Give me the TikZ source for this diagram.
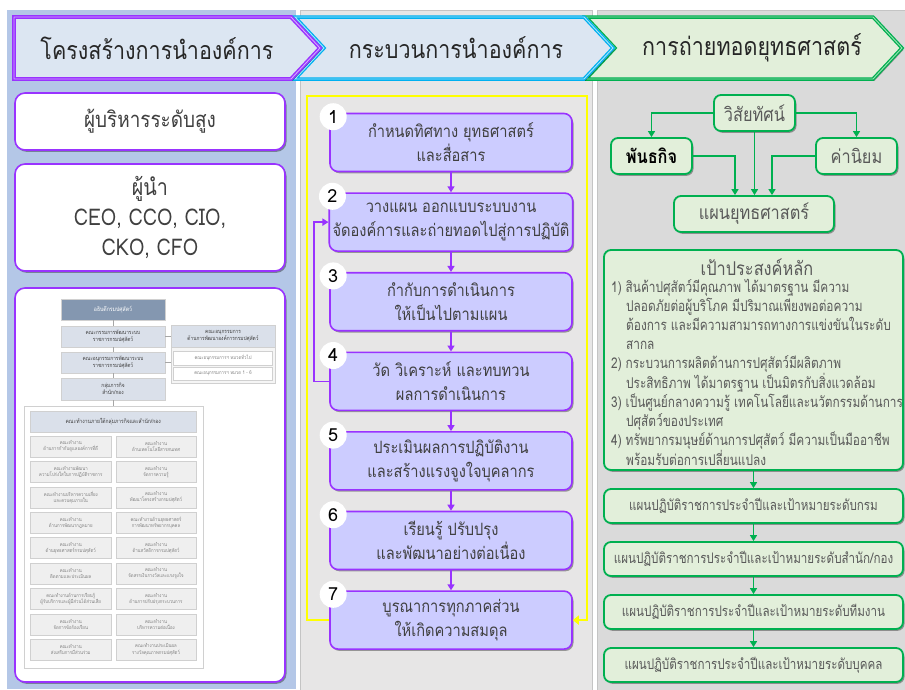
\documentclass[tikz,border=0pt]{standalone}
\usepackage{fontspec}
\setmainfont{Loma}[Script=Thai]
\newfontfamily\thn{Loma}[Script=Thai,FakeStretch=0.86]
\newfontfamily\thnn{Loma}[Script=Thai,FakeStretch=0.8]
\usetikzlibrary{arrows.meta,shadows,calc}
\definecolor{leftbg}{HTML}{B4C7E7}
\definecolor{midbg}{HTML}{E7E6E6}
\definecolor{rightbg}{HTML}{DADADA}
\definecolor{colline}{HTML}{C4C4C4}
\definecolor{hdrblue}{HTML}{DCE6F2}
\definecolor{hdrgreen}{HTML}{E2EFDA}
\definecolor{pp}{HTML}{9933FF}
\definecolor{ppl}{HTML}{D2A8FF}
\definecolor{cy}{HTML}{00B0F0}
\definecolor{cyl}{HTML}{A6E4FA}
\definecolor{gr}{HTML}{00B050}
\definecolor{grl}{HTML}{9AE0B2}
\definecolor{lav}{HTML}{CCCCFF}
\definecolor{txt}{HTML}{404040}
\definecolor{txtg}{HTML}{595959}
\definecolor{orgdark}{HTML}{8497B0}
\definecolor{orgmid}{HTML}{DAE0EA}
\definecolor{orgcell}{HTML}{EFEFEF}
\definecolor{orgline}{HTML}{D0D0D0}
\definecolor{yl}{HTML}{FFFF00}
\tikzset{
  shad/.style={drop shadow={shadow xshift=1.5pt,shadow yshift=-1.8pt,opacity=.35,fill=black}},
  leftbox/.style={rounded corners=10pt,fill=white,draw=pp,line width=1.6pt,shad,align=center,text=txt},
  proc/.style={rounded corners=8pt,fill=lav,draw=pp,line width=1.6pt,shad,align=center,text=txt,
    minimum width=242pt,minimum height=58pt,font=\fontsize{17}{24}\selectfont\thn},
  numc/.style={circle,fill=white,minimum size=27pt,inner sep=0pt,font=\fontsize{18}{18}\selectfont},
  parrow/.style={draw=pp,line width=1.6pt,-{Triangle[length=6pt,width=7pt]}},
  yarrow/.style={draw=yl,line width=2.4pt,-{Triangle[length=6pt,width=9pt]}},
  gbox/.style={rounded corners=7pt,fill=hdrgreen,draw=gr,line width=1.8pt,shad,align=center,text=txtg},
  garrow/.style={draw=gr,line width=1.8pt,-{Triangle[length=6pt,width=7pt]}},
  hdrtxt/.style={font=\fontsize{25}{25}\selectfont\thn,text=black!85},
  orgbox/.style={draw=orgline,line width=0.4pt,inner sep=0.5pt,align=center},
  orgln/.style={draw=black!35,line width=0.6pt},
  cell/.style={orgbox,fill=orgcell,minimum height=21pt,text=black!50,font=\fontsize{5}{6.2}\selectfont\thn},
  planbox/.style={gbox,minimum width=299pt,minimum height=34pt,font=\fontsize{14.5}{14.5}\selectfont\thnn}
}
\begin{document}
\begin{tikzpicture}[x=1pt,y=-1pt]
\useasboundingbox (0,0) rectangle (905,689);
\fill[white] (0,0) rectangle (905,689);
% column backgrounds
\fill[leftbg] (7,10) rectangle (296,689);
\filldraw[fill=midbg,draw=colline,line width=0.8pt] (300,10) rectangle (592,690);
\filldraw[fill=rightbg,draw=colline,line width=0.8pt] (597,10) rectangle (906,690);
% header arrows
\draw[shad,fill=hdrgreen,draw=gr,line width=1.3pt,double=grl,double distance=0.9pt]
  (586,17) -- (873,17) -- (902,48) -- (873,79) -- (586,79) -- (615,48) -- cycle;
\draw[shad,fill=hdrblue,draw=cy,line width=1.3pt,double=cyl,double distance=0.9pt]
  (295,17) -- (584,17) -- (613,48) -- (584,79) -- (295,79) -- (324,48) -- cycle;
\draw[shad,fill=hdrblue,draw=pp,line width=1.5pt,double=ppl,double distance=0.9pt]
  (14,17) -- (291,17) -- (320,48) -- (291,79) -- (14,79) -- cycle;
\node[hdrtxt] (h1) at (157,48) {โครงสร้างการนำองค์การ};
\node[hdrtxt] (h2) at (456,48) {กระบวนการนำองค์การ};
\node[hdrtxt] (h3) at (752,48) {การถ่ายทอดยุทธศาสตร์};
% ---------------- left column
\node[leftbox,minimum width=270pt,minimum height=57pt,font=\fontsize{22}{22}\selectfont\thn] (lb1) at (150,121.5) {ผู้บริหารระดับสูง};
\node[leftbox,minimum width=270pt,minimum height=107pt,font=\fontsize{23}{30}\selectfont\thn] (lb2) at (150,217.5) {ผู้นำ\\CEO, CCO, CIO,\\CKO, CFO};
\node[leftbox,minimum width=270pt,minimum height=394pt] (lb3) at (150,485) {};
% org chart
\node[orgbox,fill=orgdark,text=white,minimum width=104pt,minimum height=21pt,font=\fontsize{6}{7}\selectfont\thn] (o0) at (113,309.5) {อธิบดีกรมปศุสัตว์};
\node[orgbox,fill=orgmid,text=black!75,minimum width=104pt,minimum height=21pt,font=\fontsize{5.6}{6.8}\selectfont\thn] (o1) at (113,336.5) {คณะกรรมการพัฒนาระบบ\\ราชการกรมปศุสัตว์};
\node[orgbox,fill=orgmid,text=black!75,minimum width=104pt,minimum height=21pt,font=\fontsize{5.6}{6.8}\selectfont\thn] (o2) at (113,362.5) {คณะอนุกรรมการพัฒนาระบบ\\ราชการกรมปศุสัตว์};
\node[orgbox,fill=orgmid,text=black!75,minimum width=104pt,minimum height=22pt,font=\fontsize{5.6}{6.8}\selectfont\thn] (o3) at (113,389) {กลุ่มภารกิจ\\สำนัก/กอง};
\node[orgbox,fill=black!4,minimum width=104pt,minimum height=58pt] (rg) at (223,354) {};
\node[orgbox,fill=orgmid,text=black!75,minimum width=104pt,minimum height=22pt,font=\fontsize{5.6}{6.8}\selectfont\thn,anchor=north] (rgh) at (rg.north) {คณะอนุกรรมการ\\ด้านการพัฒนาองค์การกรมปศุสัตว์};
\node[orgbox,fill=white,text=black!50,minimum width=99pt,minimum height=14pt,font=\fontsize{5}{6}\selectfont\thn] (rs1) at (223,358) {คณะอนุกรรมการฯ หมวดทั่วไป};
\node[orgbox,fill=white,text=black!50,minimum width=99pt,minimum height=13pt,font=\fontsize{5}{6}\selectfont\thn] (rs2) at (223,373.5) {คณะอนุกรรมการฯ หมวด 1 - 6};
\node[orgbox,fill=white,minimum width=179pt,minimum height=262pt] (wg) at (113.5,537) {};
\node[orgbox,fill=orgmid,text=black!75,minimum width=165.5pt,minimum height=21pt,font=\fontsize{5.8}{7}\selectfont\thn] (wgh) at (113.25,421.5) {คณะทำงานภายใต้กลุ่มภารกิจและสำนัก/กอง};
\draw[orgln] (o0) -- (o1);
\draw[orgln] (o1) -- (o2);
\draw[orgln] (o2) -- (o3);
\draw[orgln] (o3.south) -- (o3.south |- wg.north);
\draw[orgln] (o1.east) -- (o1.east -| rg.west);
\draw[orgln] (o2.east) -- (o2.east -| rg.west);
\foreach \i/\l/\r in {
 0/{คณะทำงาน\\ด้านการกำกับดูแลองค์การที่ดี}/{คณะทำงาน\\ด้านเทคโนโลยีสารสนเทศ},
 1/{คณะทำงานพัฒนา\\ความโปร่งใสในการปฏิบัติราชการ}/{คณะทำงาน\\จัดการความรู้},
 2/{คณะทำงานบริหารความเสี่ยง\\และควบคุมภายใน}/{คณะทำงาน\\พัฒนาโครงสร้างกรมปศุสัตว์},
 3/{คณะทำงาน\\ด้านการพัฒนากฎหมาย}/{คณะทำงานด้านยุทธศาสตร์\\การพัฒนาทรัพยากรบุคคล},
 4/{คณะทำงาน\\ด้านยุทธศาสตร์กรมปศุสัตว์}/{คณะทำงาน\\ด้านสวัสดิการกรมปศุสัตว์},
 5/{คณะทำงาน\\ติดตามและประเมินผล}/{คณะทำงาน\\จัดสรรเงินรางวัลและแรงจูงใจ},
 6/{คณะทำงานด้านการเรียนรู้\\ผู้รับบริการและผู้มีส่วนได้ส่วนเสีย}/{คณะทำงาน\\ด้านการปรับปรุงกระบวนการ},
 7/{คณะทำงาน\\จัดการข้อร้องเรียน}/{คณะทำงาน\\บริหารความต่อเนื่อง},
 8/{คณะทำงาน\\ส่งเสริมการมีส่วนร่วม}/{คณะทำงานประเมินผล\\รางวัลคุณภาพกรมปศุสัตว์}}{
  \node[cell,minimum width=80.5pt] (cl\i) at (70.75,446.5+25.4*\i) {\l};
  \node[cell,minimum width=80pt] (cr\i) at (156,446.5+25.4*\i) {\r};
}
% ---------------- middle column
\coordinate (yTL) at (307,96);
\coordinate (yTR) at (587,96);
\node[proc] (p1) at (451,142.5) {กำหนดทิศทาง ยุทธศาสตร์\\และสื่อสาร};
\node[proc] (p2) at (451,222.1) {วางแผน ออกแบบระบบงาน\\จัดองค์การและถ่ายทอดไปสู่การปฏิบัติ};
\node[proc] (p3) at (451,301.7) {กำกับการดำเนินการ\\ให้เป็นไปตามแผน};
\node[proc] (p4) at (451,381.3) {วัด วิเคราะห์ และทบทวน\\ผลการดำเนินการ};
\node[proc] (p5) at (451,460.9) {ประเมินผลการปฏิบัติงาน\\และสร้างแรงจูงใจบุคลากร};
\node[proc] (p6) at (451,540.5) {เรียนรู้ ปรับปรุง\\และพัฒนาอย่างต่อเนื่อง};
\node[proc] (p7) at (451,620.1) {บูรณาการทุกภาคส่วน\\ให้เกิดความสมดุล};
\draw[yarrow] (p7.west) -| (yTL) -- (yTR) |- (p7.east);
\foreach \a/\b in {1/2,2/3,3/4,4/5,5/6,6/7}{
  \draw[parrow] (p\a.south) -- (p\b.north);
}
\draw[parrow] (p4.west) -- ++(-15,0) |- (p2.west);
\foreach \i in {1,...,7}{
  \node[numc] (n\i) at ([shift={(4pt,-4pt)}]p\i.north west) {\i};
}
% ---------------- right column
\node[gbox,minimum width=81pt,minimum height=36pt,font=\fontsize{19}{19}\selectfont\thn] (vis) at (754.5,113) {วิสัยทัศน์};
\node[gbox,minimum width=81pt,minimum height=36pt,font=\fontsize{19}{19}\selectfont\thn\bfseries,text=black] (mis) at (651.5,156) {พันธกิจ};
\node[gbox,minimum width=81pt,minimum height=36pt,font=\fontsize{19}{19}\selectfont\thn] (val) at (856.5,156) {ค่านิยม};
\node[gbox,minimum width=160pt,minimum height=36pt,font=\fontsize{19}{19}\selectfont\thn] (plan) at (754,214) {แผนยุทธศาสตร์};
\draw[garrow] (vis.west) -| (mis.north);
\draw[garrow] (vis.east) -| (val.north);
\draw[garrow] (vis.south) -- (vis.south |- plan.north);
\draw[garrow] (mis.east) -| ([xshift=-19pt]plan.north);
\draw[garrow] (val.west) -| ([xshift=18pt]plan.north);
\node[gbox,minimum width=299pt,minimum height=220pt] (goal) at (753.5,360) {};
\node[font=\fontsize{19}{19}\selectfont\thn,text=txtg] (goalt) at (757,267) {เป้าประสงค์หลัก};
\node[anchor=north west,align=left,inner sep=0pt,text=txtg,font=\fontsize{14.8}{19}\selectfont\thnn] (goall) at (611,279) {%
1) สินค้าปศุสัตว์มีคุณภาพ ได้มาตรฐาน มีความ\\
\hspace*{15pt}ปลอดภัยต่อผู้บริโภค มีปริมาณเพียงพอต่อความ\\
\hspace*{15pt}ต้องการ และมีความสามารถทางการแข่งขันในระดับ\\
\hspace*{15pt}สากล\\
2) กระบวนการผลิตด้านการปศุสัตว์มีผลิตภาพ\\
\hspace*{15pt}ประสิทธิภาพ ได้มาตรฐาน เป็นมิตรกับสิ่งแวดล้อม\\
3) เป็นศูนย์กลางความรู้ เทคโนโลยีและนวัตกรรมด้านการ\\
\hspace*{15pt}ปศุสัตว์ของประเทศ\\
4) ทรัพยากรมนุษย์ด้านการปศุสัตว์ มีความเป็นมืออาชีพ\\
\hspace*{15pt}พร้อมรับต่อการเปลี่ยนแปลง};
\node[planbox] (b1) at (753.5,506) {แผนปฏิบัติราชการประจำปีและเป้าหมายระดับกรม};
\node[planbox] (b2) at (753.5,559) {แผนปฏิบัติราชการประจำปีและเป้าหมายระดับสำนัก/กอง};
\node[planbox] (b3) at (753.5,612) {แผนปฏิบัติราชการประจำปีและเป้าหมายระดับทีมงาน};
\node[planbox] (b4) at (753.5,665) {แผนปฏิบัติราชการประจำปีและเป้าหมายระดับบุคคล};
\draw[garrow] (goal.south) -- (b1.north);
\draw[garrow] (b1.south) -- (b2.north);
\draw[garrow] (b2.south) -- (b3.north);
\draw[garrow] (b3.south) -- (b4.north);
\end{tikzpicture}
\end{document}
